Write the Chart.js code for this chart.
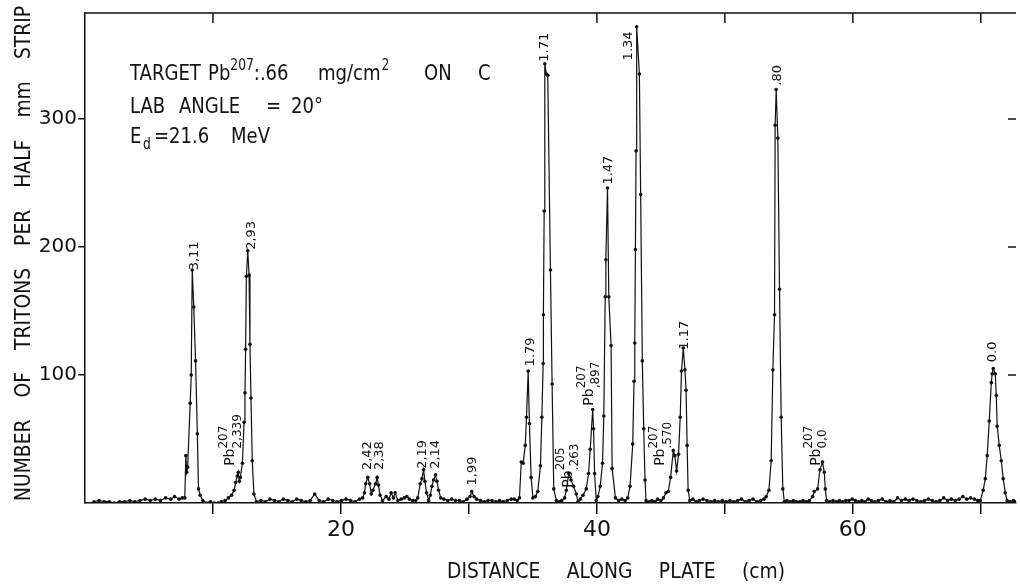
<!DOCTYPE html>
<html>
<head>
<meta charset="utf-8">
<script src="https://cdn.jsdelivr.net/npm/chart.js@4"></script>
<style>
  html, body { margin: 0; padding: 0; background: #fff; }
  #wrap { width: 1020px; height: 584px; }
</style>
</head>
<body>
<div id="wrap"><canvas id="chart" width="1020" height="584"></canvas></div>
<script>
// distance along plate (cm)
const distance = [
  0.7, 1.1, 1.5, 1.9, 2.3, 2.7, 3.1, 3.5, 3.9, 4.3, 4.7, 5.1, 5.5, 5.9, 6.3, 6.7, 7.0, 7.35, 7.6,
  7.8, 7.88, 7.95, 8.02, 8.22, 8.3, 8.38, 8.5, 8.64, 8.78, 8.87, 9.0, 9.2, 9.5, 9.8, 10.1, 10.4, 10.65, 10.95,
  11.2, 11.45, 11.65, 11.77, 11.9, 11.98, 12.06, 12.14, 12.3, 12.43, 12.5, 12.55, 12.61, 12.72, 12.82, 12.89, 12.97, 13.07, 13.2, 13.4,
  13.75, 14.1, 14.45, 14.8, 15.15, 15.5, 15.85, 16.2, 16.55, 16.9, 17.25, 17.6, 17.95, 18.3, 18.65, 19.0, 19.35, 19.7, 20.05, 20.4, 20.75, 21.1, 21.45, 21.7,
  21.84, 21.93, 22.1, 22.24, 22.37, 22.5, 22.71, 22.83, 22.93, 23.06, 23.25, 23.53, 23.75, 23.92, 24.1, 24.23, 24.45, 24.7, 24.95, 25.15, 25.35, 25.6, 25.85,
  26.0, 26.2, 26.33, 26.46, 26.56, 26.69, 26.85, 26.98, 27.11, 27.24, 27.39, 27.5, 27.63, 27.8, 28.05, 28.35, 28.65, 28.95, 29.25, 29.55, 29.85,
  30.09, 30.22, 30.4, 30.6, 30.9, 31.2, 31.5, 31.8, 32.1, 32.4, 32.7, 33.0, 33.3, 33.55, 33.77, 33.95,
  34.09, 34.24, 34.4, 34.5, 34.63, 34.73, 34.86, 35.0, 35.2, 35.38, 35.59, 35.7, 35.8, 35.82, 35.88, 35.93, 36.05, 36.16, 36.37, 36.5, 36.63, 36.83, 37.05, 37.25, 37.48,
  37.61, 37.8, 37.98, 38.18, 38.39, 38.52, 38.7, 38.91, 39.17, 39.35, 39.48, 39.67, 39.74, 39.82, 39.95,
  40.08, 40.26, 40.44, 40.54, 40.65, 40.7, 40.83, 40.93, 41.11, 41.19, 41.45, 41.7, 41.95, 42.2,
  42.41, 42.59, 42.8, 42.9, 42.96, 43.01, 43.06, 43.11, 43.32, 43.42, 43.55, 43.66, 43.76, 43.84,
  44.05, 44.3, 44.55, 44.75, 45.0, 45.2, 45.4, 45.58, 45.76, 45.97, 46.09, 46.23, 46.38, 46.51, 46.61, 46.75, 46.88, 46.97, 47.05, 47.13, 47.26,
  47.5, 47.75, 48.0, 48.3, 48.6, 48.9, 49.2, 49.5, 49.8, 50.1, 50.4, 50.7, 51.0, 51.3, 51.6, 51.9, 52.2, 52.5, 52.8, 53.05,
  53.23, 53.44, 53.62, 53.75, 53.88, 53.93, 54.01, 54.14, 54.27, 54.4, 54.53, 54.65,
  54.85, 55.1, 55.35, 55.6, 55.85, 56.1, 56.35, 56.6, 56.86,
  56.99, 57.25, 57.43, 57.63, 57.77, 57.85, 57.95,
  58.2, 58.45, 58.7, 58.95, 59.2, 59.45, 59.7, 59.95, 60.2, 60.45, 60.7, 60.95, 61.2, 61.45, 61.7, 62.0, 62.3, 62.6, 62.9, 63.2,
  63.5, 63.8, 64.1, 64.4, 64.7, 65.0, 65.3, 65.6, 65.9, 66.2, 66.5, 66.8, 67.1, 67.4, 67.7, 68.0, 68.3, 68.6, 68.9, 69.2, 69.5, 69.75,
  69.96, 70.19, 70.35, 70.5, 70.66, 70.82, 70.89, 70.97, 71.13, 71.21, 71.28, 71.44, 71.6, 71.75, 71.91, 72.06, 72.3, 72.55, 72.75
];

// number of tritons per half mm strip
const counts = [
  1, 2, 1, 1, 0, 1, 1, 2, 1, 2, 3, 2, 3, 2, 4, 3, 5, 3, 4,
  4, 37, 24, 28, 78, 100, 182, 153, 111, 54, 11, 6, 2, 0, 1, 0, 0, 1, 2,
  4, 6, 10, 16, 21, 24, 17, 20, 31, 63, 86, 120, 177, 197, 178, 124, 82, 33, 7, 1,
  2, 1, 3, 2, 1, 3, 2, 1, 3, 2, 1, 2, 7, 2, 1, 3, 2, 1, 2, 3, 2, 1, 3, 4,
  8, 15, 20, 15, 7, 10, 15, 20, 14, 6, 2, 5, 3, 8, 4, 8, 2, 3, 4, 5, 3, 2, 2,
  4, 15, 19, 26, 17, 8, 2, 6, 13, 18, 22, 17, 10, 4, 3, 2, 3, 2, 2, 1, 3,
  5, 9, 5, 3, 2, 1, 2, 2, 1, 2, 1, 2, 3, 3, 2, 4,
  32, 31, 45, 67, 103, 62, 20, 4, 5, 9, 29, 67, 109, 147, 228, 343, 335, 334, 182, 93, 11, 2, 1, 2, 4,
  10, 23, 18, 13, 7, 1, 3, 6, 11, 23, 42, 73, 58, 23, 2,
  5, 13, 31, 68, 161, 190, 246, 161, 123, 27, 4, 2, 3, 2,
  4, 13, 46, 95, 125, 198, 275, 372, 335, 241, 111, 58, 18, 2,
  1, 2, 1, 3, 2, 4, 8, 9, 20, 41, 37, 25, 38, 67, 103, 121, 104, 88, 45, 10, 2,
  3, 1, 2, 3, 2, 1, 2, 1, 2, 1, 2, 1, 2, 3, 1, 2, 3, 1, 2, 3,
  5, 10, 33, 104, 147, 295, 323, 285, 167, 67, 11, 1,
  2, 1, 2, 1, 1, 2, 1, 2, 5,
  9, 11, 26, 32, 24, 11, 2,
  1, 2, 1, 2, 1, 2, 2, 3, 2, 1, 2, 1, 3, 2, 1, 2, 3, 1, 2, 1,
  4, 2, 3, 2, 3, 2, 1, 2, 3, 2, 1, 2, 4, 2, 3, 2, 3, 5, 3, 4, 3, 2,
  2, 10, 19, 37, 64, 94, 101, 105, 101, 84, 60, 45, 33, 19, 8, 2, 1, 2, 1
];

const xTicks = [10, 20, 30, 40, 50, 60, 70];
const xTickLabels = ['20', '40', '60'];
const yTicks = [100, 200, 300];
const topTicks = [10, 40, 50, 60, 70];

// peak labels (excitation energies), centre position in data units
const peakText = ['3,11', '2,93', '2,42', '2,38', '2,19', '2,14', '1,99', '1.79', '1.71', '1.47', '1.34', '1.17', '.80', '0.0'];
const peakX    = [8.56, 13.0, 22.1, 23.04, 26.38, 27.39, 30.27, 34.79, 35.95, 40.93, 42.49, 46.85, 54.09, 70.89];
const peakY    = [193, 209, 37, 37, 38, 38, 25, 118, 356, 260, 357, 131, 334, 118];

// Pb contaminant labels: mass number, level, start of "Pb" in data units
const pbMass  = ['207', '205', '207', '207', '207'];
const pbLevel = ['2,339', '.263', ',897', '.570', '0,0'];
const pbX     = [11.36, 37.74, 39.38, 44.98, 57.12];
const pbY     = [29, 12, 76, 29, 29];

const INK = '#111';
const FONT = '"DejaVu Sans", sans-serif';

function word(ctx, text, x, y, size, sx) {
  ctx.save();
  ctx.font = size + 'px ' + FONT;
  ctx.translate(x, y);
  ctx.scale(sx, 1);
  ctx.fillText(text, 0, 0);
  const w = ctx.measureText(text).width * sx;
  ctx.restore();
  return w;
}

// lay words out evenly between a and b on the current baseline
function spread(ctx, words, a, b, y, size, sx) {
  ctx.font = size + 'px ' + FONT;
  const ws = words.map(t => ctx.measureText(t).width * sx);
  const gap = (b - a - ws.reduce((s, w) => s + w, 0)) / (words.length - 1);
  let x = a;
  words.forEach((t, i) => { word(ctx, t, x, y, size, sx); x += ws[i] + gap; });
}

const decor = {
  id: 'decor',
  afterDraw(chart) {
    const { ctx, chartArea: ca, scales: { x, y } } = chart;
    ctx.save();
    ctx.strokeStyle = INK;
    ctx.fillStyle = INK;
    ctx.lineWidth = 1.5;

    // top frame line and inward ticks
    ctx.beginPath();
    ctx.moveTo(ca.left, ca.top);
    ctx.lineTo(ca.right, ca.top);
    topTicks.forEach(v => {
      const px = x.getPixelForValue(v);
      ctx.moveTo(px, ca.top);
      ctx.lineTo(px, ca.top + 10);
    });
    yTicks.forEach(v => {
      const py = y.getPixelForValue(v);
      ctx.moveTo(ca.right, py);
      ctx.lineTo(ca.right - 8, py);
    });
    ctx.stroke();

    ctx.textBaseline = 'alphabetic';
    ctx.textAlign = 'left';

    // x axis title
    spread(ctx, ['DISTANCE', 'ALONG', 'PLATE', '(cm)'], 447, 785, 578, 22, 0.85);

    // y axis title
    ctx.save();
    ctx.translate(30, 0);
    ctx.rotate(-Math.PI / 2);
    spread(ctx, ['NUMBER', 'OF', 'TRITONS', 'PER', 'HALF', 'mm', 'STRIP'], -501, -6, 0, 22, 0.85);
    ctx.restore();

    // target / angle / energy note
    const s = 0.82;
    let cx;
    word(ctx, 'TARGET', 130, 80, 22, s);
    cx = 208 + word(ctx, 'Pb', 208, 80, 22, s);
    cx += word(ctx, '207', cx, 70, 15, s);
    word(ctx, ':.66', cx, 80, 22, s);
    cx = 318 + word(ctx, 'mg/cm', 318, 80, 22, s);
    word(ctx, '2', cx + 1, 70, 15, s);
    word(ctx, 'ON', 424, 80, 22, s);
    word(ctx, 'C', 478, 80, 22, s);

    word(ctx, 'LAB', 130, 113, 22, s);
    word(ctx, 'ANGLE', 179, 113, 22, s);
    word(ctx, '=', 266, 113, 22, s);
    word(ctx, '20°', 291, 113, 22, s);

    word(ctx, 'E', 130, 143, 22, s);
    word(ctx, 'd', 143, 149, 15, s);
    word(ctx, '=', 154, 143, 22, s);
    word(ctx, '21.6', 169, 143, 22, s);
    word(ctx, 'MeV', 231, 143, 22, s);

    // peak labels, rotated
    ctx.font = '13px ' + FONT;
    ctx.textAlign = 'center';
    ctx.textBaseline = 'middle';
    peakText.forEach((t, i) => {
      ctx.save();
      ctx.translate(x.getPixelForValue(peakX[i]), y.getPixelForValue(peakY[i]));
      ctx.rotate(-Math.PI / 2);
      ctx.fillText(t, 0, 0);
      ctx.restore();
    });

    // Pb labels with mass superscript and level subscript
    ctx.textAlign = 'left';
    pbMass.forEach((m, i) => {
      ctx.save();
      ctx.translate(x.getPixelForValue(pbX[i]), y.getPixelForValue(pbY[i]));
      ctx.rotate(-Math.PI / 2);
      ctx.font = '14px ' + FONT;
      ctx.fillText('Pb', 0, 0);
      const w = ctx.measureText('Pb').width;
      ctx.font = '12px ' + FONT;
      ctx.fillText(m, w, -7);
      ctx.fillText(pbLevel[i], w, 7);
      ctx.restore();
    });
    ctx.restore();
  }
};

const points = distance.map((d, i) => ({ x: d, y: counts[i] }));

new Chart(document.getElementById('chart'), {
  type: 'line',
  data: {
    datasets: [{
      data: points,
      borderColor: INK,
      borderWidth: 1.2,
      pointRadius: 1.8,
      pointBackgroundColor: INK,
      pointBorderWidth: 0,
      tension: 0
    }]
  },
  options: {
    responsive: false,
    animation: false,
    devicePixelRatio: 1,
    layout: { padding: { top: 8, left: 0, right: 0, bottom: 0 } },
    plugins: { legend: { display: false }, tooltip: { enabled: false } },
    scales: {
      x: {
        type: 'linear',
        min: 0,
        max: 72.75,
        afterBuildTicks: s => { s.ticks = xTicks.map(v => ({ value: v })); },
        afterFit: s => { s.height = 81; },
        ticks: {
          autoSkip: false,
          maxRotation: 0,
          padding: 3,
          color: INK,
          font: { family: FONT, size: 22 },
          callback: v => xTickLabels.includes(String(v)) ? String(v) : ''
        },
        grid: { drawOnChartArea: false, tickLength: 11, color: INK, lineWidth: 1.5 },
        border: { color: INK, width: 1.5 }
      },
      y: {
        min: 0,
        max: 382.7,
        afterBuildTicks: s => { s.ticks = yTicks.map(v => ({ value: v })); },
        afterFit: s => { s.width = 85; },
        ticks: {
          padding: 1,
          color: INK,
          font: { family: FONT, size: 20 }
        },
        grid: { drawOnChartArea: false, tickLength: 7, color: INK, lineWidth: 1.5 },
        border: { color: INK, width: 1.5 }
      }
    }
  },
  plugins: [decor]
});
</script>
</body>
</html>
